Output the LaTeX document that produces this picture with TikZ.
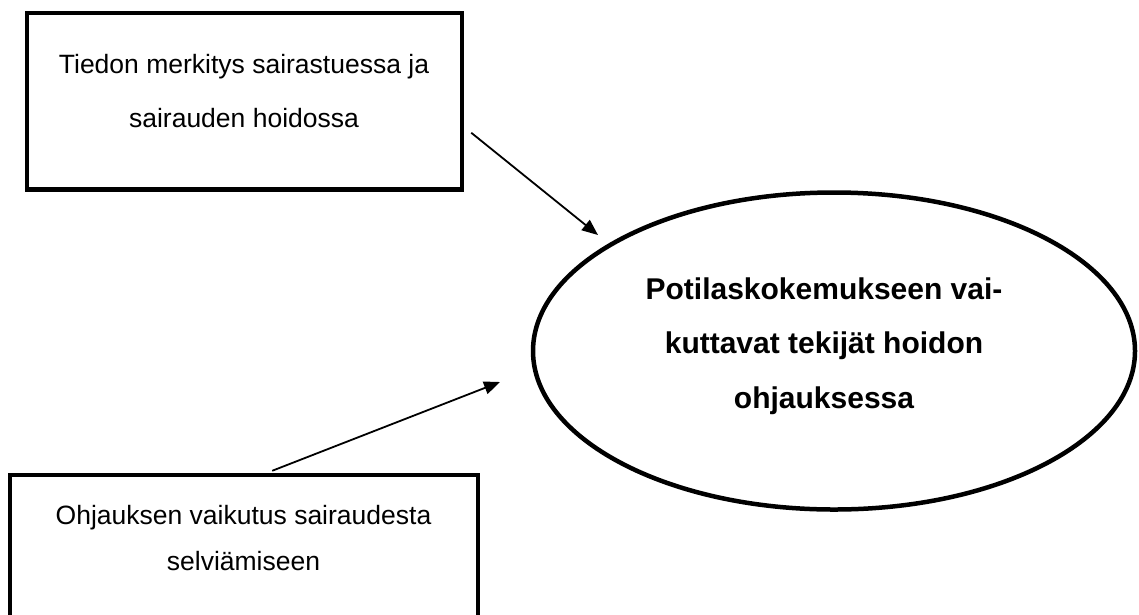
\documentclass[tikz,border=0pt]{standalone}
\usepackage{fontspec}
\setmainfont{Liberation Sans}
\usetikzlibrary{arrows.meta,shapes.geometric,calc}
\tikzset{
  laatikko/.style={draw, rectangle, line width=4.5pt, inner sep=0pt},
  soikio/.style={draw, ellipse, line width=4.5pt, inner sep=0pt},
  teksti/.style={align=center, inner sep=0pt, font=\fontsize{26.5}{53.7}\selectfont},
  paateksti/.style={align=center, inner sep=0pt, font=\bfseries\fontsize{30}{54.5}\selectfont},
  nuoli/.style={line width=1.8pt, -{Triangle[length=16pt,width=13pt]}}
}

\begin{document}
\begin{tikzpicture}[x=1pt, y=-1pt]
\useasboundingbox (0,0) rectangle (1139,614);
\clip (0,0) rectangle (1139,614);
\node[laatikko, minimum width=435, minimum height=176.5] (tiedon) at (244.5,101.25) {};
\node[teksti] (tiedonteksti) at (244,91) {Tiedon merkitys sairastuessa ja\\sairauden hoidossa};
\node[laatikko, minimum width=468, minimum height=177] (ohjaus) at (243.75,563.5) {};
\node[teksti, font=\fontsize{26.5}{46}\selectfont] (ohjausteksti) at (243.5,538) {Ohjauksen vaikutus sairaudesta\\selviämiseen};
\node[soikio, minimum width=602, minimum height=317] (tekijat) at (834,351) {};
\node[paateksti] (tekijatteksti) at (824,346) {Potilaskokemukseen vai-\\kuttavat tekijät hoidon\\ohjauksessa};
\coordinate (n1alku) at ($(tiedon.east)+(7,31.5)$);
\coordinate (n1karki) at ($(tekijat.center)+(-236,-116)$);
\coordinate (n2alku) at ($(ohjaus.north)+(28.5,-2)$);
\coordinate (n2karki) at ($(tekijat.center)+(-334,31)$);
\draw[nuoli] (n1alku) -- (n1karki);
\draw[nuoli] (n2alku) -- (n2karki);
\end{tikzpicture}
\end{document}
